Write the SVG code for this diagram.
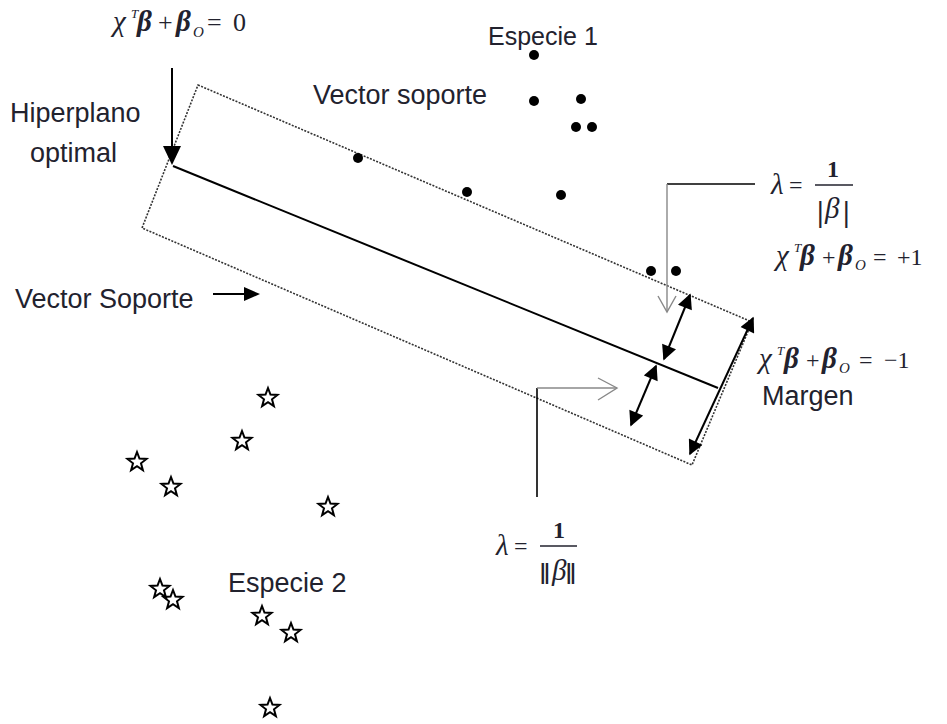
<svg xmlns="http://www.w3.org/2000/svg" width="947" height="724" viewBox="0 0 947 724">
<style>
.lbl{font-family:"Liberation Sans",Arial,sans-serif;font-size:27px;fill:#22222e}
.m{font-family:"Liberation Serif","Times New Roman",serif;font-size:24px;fill:#22222e}
.m26{font-size:26px}
.i{font-style:italic}
.g{font-size:29px}
.b{font-style:italic;font-weight:bold}
.sup{font-size:13px;font-style:italic}
.sub{font-size:15px;font-style:italic}
.bar{font-size:30px;font-weight:bold;font-style:normal}
.dot{fill:#000}
.star{fill:none;stroke:#000;stroke-width:2;stroke-linejoin:miter}
.dotted{fill:none;stroke:#333;stroke-width:1.6;stroke-dasharray:2 1.4}
.solid{fill:none;stroke:#000;stroke-width:2}
.dbl{fill:none;stroke:#000;stroke-width:2;marker-start:url(#ah);marker-end:url(#ah)}
.call{fill:none;stroke:#000;stroke-width:1.6}
.callg{fill:none;stroke:#888;stroke-width:1.4}
</style>
<defs>
<marker id="ah" viewBox="0 0 10 10" refX="9" refY="5" markerWidth="16" markerHeight="15" markerUnits="userSpaceOnUse" orient="auto-start-reverse">
<path d="M0,0 L10,5 L0,10 z" fill="#000"/>
</marker>
<path id="st" d="M0,-10 L2.47,-3.4 L9.51,-3.09 L3.99,1.3 L5.88,8.09 L0,4.2 L-5.88,8.09 L-3.99,1.3 L-9.51,-3.09 L-2.47,-3.4 Z"/>
</defs>
<rect width="947" height="724" fill="#fff"/>

<g id="margin-band">
<polygon class="dotted" points="198,85 752,322 692,465 142,228"/>
</g>
<g id="hyperplane">
<line class="solid" x1="173" y1="166" x2="718" y2="388"/>
</g>

<g id="connectors">
<line x1="172" y1="68" x2="172" y2="148" stroke="#000" stroke-width="2"/>
<path d="M163,146 L181,146 L172,165 Z" fill="#000"/>
<line x1="213" y1="294" x2="246" y2="294" stroke="#000" stroke-width="2"/>
<path d="M244,287 L260,294 L244,301 Z" fill="#000"/>
<line class="dbl" x1="690" y1="295" x2="664" y2="359"/>
<line class="dbl" x1="656" y1="366" x2="631" y2="425"/>
<line class="dbl" x1="753" y1="318" x2="690" y2="454"/>
<polyline class="call" points="755,184 667,184"/>
<polyline class="callg" points="667,184 667,312"/>
<polyline class="callg" points="658,296 667,312 676,296"/>
<polyline class="call" points="537,497 537,388"/>
<polyline class="callg" points="537,388 617,388"/>
<polyline class="callg" points="598,378 617,388 598,400"/>
</g>

<g id="especie1">
<circle class="dot" cx="534" cy="55" r="5"/>
<circle class="dot" cx="534" cy="101" r="5"/>
<circle class="dot" cx="581" cy="99" r="5"/>
<circle class="dot" cx="576" cy="127" r="5"/>
<circle class="dot" cx="592" cy="127" r="5"/>
<circle class="dot" cx="358" cy="158" r="5"/>
<circle class="dot" cx="467" cy="192" r="5"/>
<circle class="dot" cx="561" cy="195" r="5"/>
<circle class="dot" cx="651" cy="271" r="5"/>
<circle class="dot" cx="676" cy="271" r="5"/>
</g>

<g id="especie2">
<use href="#st" class="star" x="268" y="398"/>
<use href="#st" class="star" x="242" y="441"/>
<use href="#st" class="star" x="137" y="462"/>
<use href="#st" class="star" x="171" y="487"/>
<use href="#st" class="star" x="328" y="507"/>
<use href="#st" class="star" x="160" y="589"/>
<use href="#st" class="star" x="173" y="600"/>
<use href="#st" class="star" x="262" y="616"/>
<use href="#st" class="star" x="291" y="633"/>
<use href="#st" class="star" x="270" y="708"/>
</g>

<g id="labels">
<text class="lbl" x="10" y="122">Hiperplano</text>
<text class="lbl" x="30" y="162">optimal</text>
<text class="lbl" x="313" y="104">Vector soporte</text>
<text class="lbl" x="488" y="45" style="font-size:25px">Especie 1</text>
<text class="lbl" x="15" y="308">Vector Soporte</text>
<text class="lbl" x="762" y="405">Margen</text>
<text class="lbl" x="228" y="592">Especie 2</text>
</g>

<g id="eq-hyperplane">
<text class="m m26"><tspan class="i g" x="113" y="31">χ</tspan><tspan class="sup" x="131" y="18">T</tspan><tspan class="b g" x="137" y="31">β</tspan><tspan x="158" y="31">+</tspan><tspan class="b g" x="176" y="31">β</tspan><tspan class="sub" x="193" y="37">O</tspan><tspan x="207" y="31">=</tspan><tspan x="233" y="31">0</tspan></text>
</g>
<g id="eq-plus1">
<text class="m"><tspan class="i g" x="776" y="265">χ</tspan><tspan class="sup" x="794" y="252">T</tspan><tspan class="b g" x="800" y="265">β</tspan><tspan x="822" y="265">+</tspan><tspan class="b g" x="838" y="265">β</tspan><tspan class="sub" x="855" y="270">O</tspan><tspan x="873" y="265">=</tspan><tspan x="897" y="265">+1</tspan></text>
</g>
<g id="eq-minus1">
<text class="m"><tspan class="i g" x="759" y="368">χ</tspan><tspan class="sup" x="777" y="355">T</tspan><tspan class="b g" x="784" y="368">β</tspan><tspan x="806" y="368">+</tspan><tspan class="b g" x="822" y="368">β</tspan><tspan class="sub" x="839" y="373">O</tspan><tspan x="859" y="368">=</tspan><tspan x="884" y="368">−1</tspan></text>
</g>
<g id="eq-lambda1">
<text class="m"><tspan class="i g" x="771" y="194">λ</tspan><tspan x="789" y="193">=</tspan><tspan x="827" y="177" font-weight="bold">1</tspan><tspan class="bar" x="817" y="222">|</tspan><tspan class="i g" x="825" y="218">β</tspan><tspan class="bar" x="843" y="222">|</tspan></text>
<line x1="815" y1="185" x2="853" y2="185" stroke="#22222e" stroke-width="1.5"/>
</g>
<g id="eq-lambda2">
<text class="m"><tspan class="i g" x="496" y="555">λ</tspan><tspan x="514" y="554">=</tspan><tspan x="553" y="538" font-weight="bold">1</tspan><tspan class="bar" x="540" y="584">‖</tspan><tspan class="i g" x="552" y="580">β</tspan><tspan class="bar" x="566" y="584">‖</tspan></text>
<line x1="540" y1="546" x2="577" y2="546" stroke="#22222e" stroke-width="1.5"/>
</g>
</svg>
